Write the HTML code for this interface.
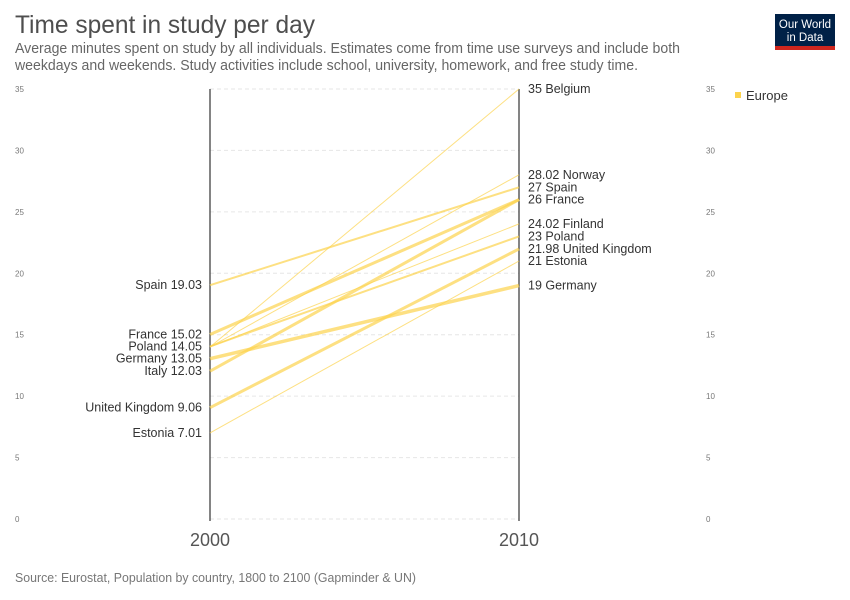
<!DOCTYPE html>
<html><head><meta charset="utf-8"><style>
html,body{margin:0;padding:0;background:#fff;}
svg{display:block;font-family:"Liberation Sans",sans-serif;}
</style></head><body>
<svg id="chart" width="850" height="600" viewBox="0 0 850 600">
<text x="15" y="33" font-size="25" fill="#4e4e4e" textLength="300" lengthAdjust="spacingAndGlyphs">Time spent in study per day</text>
<text x="15" y="53" font-size="14.5" fill="#666" textLength="665" lengthAdjust="spacingAndGlyphs">Average minutes spent on study by all individuals. Estimates come from time use surveys and include both</text>
<text x="15" y="70" font-size="14.5" fill="#666" textLength="623" lengthAdjust="spacingAndGlyphs">weekdays and weekends. Study activities include school, university, homework, and free study time.</text>
<g>
<rect x="775" y="14" width="60" height="36" fill="#002147"/>
<rect x="775" y="46" width="60" height="4" fill="#ce261e"/>
<text x="805" y="28" font-size="11.5" fill="#fff" text-anchor="middle">Our World</text>
<text x="805" y="41" font-size="11.5" fill="#fff" text-anchor="middle">in Data</text>
</g>
<g id="grid"></g>
<g id="lines"></g>
<g id="labels"></g>
<g>
<rect x="735" y="92" width="6" height="6" fill="#fcd34d"/>
<text x="746" y="100" font-size="13" fill="#333">Europe</text>
</g>
<text x="15" y="582" font-size="13" fill="#777" textLength="401" lengthAdjust="spacingAndGlyphs">Source: Eurostat, Population by country, 1800 to 2100 (Gapminder &amp; UN)</text>
</svg>
<script>
const countries=["Belgium","Norway","Spain","France","Finland","Poland","United Kingdom","Estonia","Germany","Italy"];
const values2000=[14,14,19.03,15.02,14,14.05,9.06,7.01,13.05,12.03];
const values2010=[35,28.02,27,26,24.02,23,21.98,21,19,26];
const weights=[1,1,2,3,1,2,3,1,3.5,3];
const label2000=[false,false,true,true,false,true,true,true,true,true];
const label2010=[true,true,true,true,true,true,true,true,true,false];
const yTicks=[0,5,10,15,20,25,30,35];
const years=["2000","2010"];
const NS="http://www.w3.org/2000/svg";
const x0=210,x1=519;
const y=v=>519-v*(430/35);
function mk(t,a,p){const e=document.createElementNS(NS,t);for(const k in a)e.setAttribute(k,a[k]);p.appendChild(e);return e;}
const grid=document.getElementById('grid'),lines=document.getElementById('lines'),labels=document.getElementById('labels');
yTicks.forEach(t=>{
 const l=mk('line',{x1:x0,x2:x1,y1:y(t),y2:y(t),stroke:'#e6e6e6','stroke-dasharray':'4,3'},grid);
 
 
 const a=mk('text',{x:15,y:y(t)+3,'font-size':8,fill:'#777'},grid);a.textContent=t;
 
 
 const b=mk('text',{x:706,y:y(t)+3,'font-size':8,fill:'#777'},grid);b.textContent=t;
 
 
});
[x0,x1].forEach((x,i)=>{
 const ax=mk('line',{x1:x,x2:x,y1:89,y2:521,stroke:'#333','stroke-width':1.2},grid);
 
 
 const t=mk('text',{x:x,y:546,'font-size':18,fill:'#555','text-anchor':'middle'},grid);t.textContent=years[i];
 
 
});
countries.forEach((c,i)=>{
 const l=mk('line',{x1:x0,y1:y(values2000[i]),x2:x1,y2:y(values2010[i]),stroke:'#fcd34d','stroke-opacity':0.7,'stroke-width':weights[i]},lines);
 
 
 if(label2000[i]){const t=mk('text',{x:x0-8,y:y(values2000[i])+4,'font-size':12.5,fill:'#333','text-anchor':'end'},labels);t.textContent=c+' '+values2000[i].toFixed(2);
 
 }
 if(label2010[i]){const v=values2010[i];const s=Number.isInteger(v)?String(v):v.toFixed(2);
 const t=mk('text',{x:x1+9,y:y(v)+4,'font-size':12.5,fill:'#333'},labels);t.textContent=s+' '+c;
 
 }
});
</script>
</body></html>
